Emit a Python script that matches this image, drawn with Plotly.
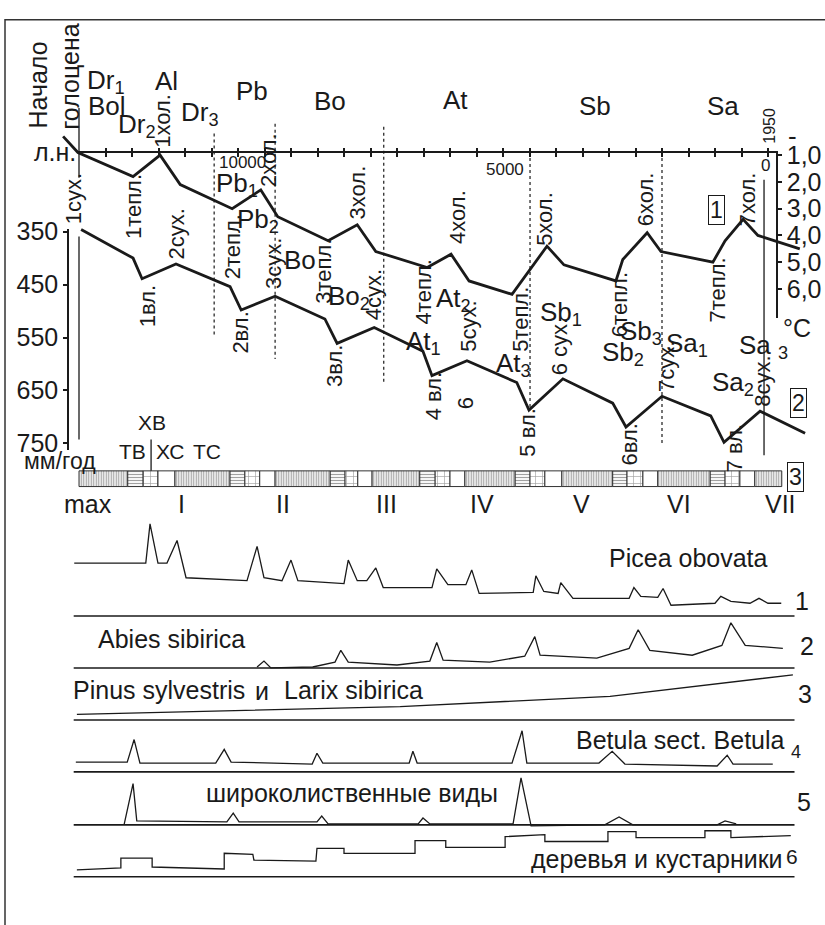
import plotly.graph_objects as go

W, H = 825, 925
FONT = "Liberation Sans, Arial, sans-serif"
INK = "#1a1a1a"

# ---------------- data (years BP) ----------------
TEMP_AGE = [13300, 13020, 11980, 11470, 11090, 10110, 9570, 9250, 8300, 7750, 7400, 6430, 5980,
            5640, 4830, 4170, 3850, 2870, 2740, 2280, 2020, 1040, 810, 470, 190, -600]
TEMP_VAL = [0.3, 0.9, 1.8, 1.0, 2.1, 3.0, 2.3, 3.3, 4.2, 3.6, 4.6, 5.2, 4.7,
            5.7, 6.2, 4.4, 5.1, 5.7, 4.9, 3.9, 4.6, 5.0, 4.2, 3.4, 4.0, 4.5]

PRECIP_AGE = [12960, 11980, 11810, 11170, 10150, 9940, 9300, 8360, 8130, 7430, 6510, 6340,
              5680, 4740, 4510, 3870, 2930, 2680, 2000, 1080, 830, 150, -700]
PRECIP_VAL = [346, 400, 439, 411, 454, 498, 472, 515, 561, 531, 576, 622,
              594, 635, 687, 628, 674, 719, 661, 698, 748, 689, 731]

PICEA_AGE = [13090, 11740, 11660, 11510, 11340, 11150, 10980, 9830, 9640, 9510, 9170, 9000, 8870,
             8000, 7920, 7750, 7570, 7400, 7260, 6340, 6250, 6040, 5700, 5590, 5450, 4430, 4380,
             4230, 3960, 3910, 3680, 2620, 2530, 2400, 2080, 1980, 1830, 1000, 890, 700, 340, 170, 0, -250]
PICEA_VAL = [27, 27, 47, 27, 27, 38.5, 19.5, 18, 35.5, 19.5, 18, 28.5, 18,
             16.5, 28.5, 18, 18, 24.5, 14.5, 14.5, 24, 16, 16, 23.5, 11.5, 12, 20.5,
             12.5, 11.5, 17, 9, 9, 14.5, 10, 9.5, 14, 5.5, 6.5, 10, 7.5, 6.5, 9, 6.5, 6.5]

ABIES_AGE = [9640, 9510, 9380, 8590, 8170, 8060, 7920, 7000, 6380, 6250, 6130, 5250,
             4590, 4400, 4300, 3230, 2620, 2450, 2230, 1430, 870, 700, 430, -280]
ABIES_VAL = [0.5, 3.5, 0, 0.5, 3, 9, 3, 1.5, 3.5, 13, 4, 3,
             6, 16, 6.5, 5, 10, 19.5, 9, 6.5, 11.5, 23, 11.5, 10]

PINUS_AGE = [13040, 6940, 2980, -470]
PINUS_VAL = [2.8, 6.8, 12, 23]

BETULA_AGE = [13060, 12090, 11960, 11850, 10420, 10260, 10130, 8600, 8510, 8400, 6770, 6700,
              6620, 4830, 4640, 4550, 3190, 2940, 2700, 960, 770, 660, -90]
BETULA_VAL = [5, 5, 16.5, 4.5, 4.5, 11.5, 5, 4, 9.5, 4.5, 4.5, 10.5,
              4.5, 4.5, 21, 4.5, 4.5, 10.5, 4, 3, 8.5, 4, 4]

BROAD_AGE = [12150, 11980, 11910, 10210, 10090, 9980, 8510, 8420, 8300, 6600, 6510,
             6380, 4810, 4660, 4470, 3080, 2810, 2550, 960, 810, 600]
BROAD_VAL = [0, 21, 2, 1.5, 6, 1.5, 1.5, 4.5, 0.5, 0.5, 3.5,
             0.5, 0.5, 24, -0.5, 0, 4, 0, 0, 2, 0.5]

TREES_AGE = [13040, 12210, 12210, 11620, 11620, 10260, 10260, 9720, 9700, 8530, 8510, 8000,
             8000, 6660, 6660, 6080, 6080, 4960, 4960, 4210, 4210, 3020, 3020, 2490, 2490,
             1190, 1190, 700, 700, -430]
TREES_VAL = [3.5, 4.5, 9.5, 9.5, 5, 4, 12, 11.5, 8.5, 8, 14.5, 14.5,
             12, 12, 18.5, 18.5, 15, 15, 20.5, 21.5, 18, 18, 23, 23, 20,
             20, 23.5, 23.5, 20, 21]

STRIP_EDGES = [13000, 12080, 11790, 11510, 11190, 10150, 9870, 9590, 9300, 8260, 7980, 7740,
               7470, 6570, 6280, 6000, 5720, 4770, 4490, 4210, 3890, 2930, 2660, 2360, 2080,
               1090, 810, 530, 250, -260]
STRIP_TYPES = ["ТС", "ТВ", "ХВ", "ХС", "ТС", "ТВ", "ХВ", "ХС", "ТС", "ТВ", "ХВ", "ХС",
               "ТС", "ТВ", "ХВ", "ХС", "ТС", "ТВ", "ХВ", "ХС", "ТС", "ТВ", "ХВ", "ХС",
               "ТС", "ТВ", "ХВ", "ХС", "ТС"]

PHASES = ["max", "I", "II", "III", "IV", "V", "VI", "VII"]
PHASE_AGES = [12830, 11075, 9150, 7190, 5400, 3510, 1680, -230]

TIME_TICKS = [0, 500, 1000, 1500, 2000, 2500, 3000, 3500, 4000, 4500, 5000, 5500, 6000,
              6500, 7000, 7500, 8000, 8500, 9000, 9500, 10000, 10500, 11000, 11500, 12000, 12500]
TEMP_TICKS = [1, 2, 3, 4, 5, 6]
TEMP_TICKTEXT = ["1,0", "2,0", "3,0", "4,0", "5,0", "6,0"]
PRECIP_TICKS = [350, 450, 550, 650, 750]

BOUNDARY_AGES = [10450, 9300, 7250, 4490, 2000]

# ---------------- geometry helpers ----------------
PX_PER_YR = 0.053
X0_PX = 768.0                      # pixel of 0 BP
AGE_LEFT = X0_PX / PX_PER_YR
AGE_RIGHT = (X0_PX - W) / PX_PER_YR

T_PX, T_SCALE = 147.0, 27.3         # 1.0 degree at 147 px
P_PX, P_SCALE = 225.0, 0.54         # 350 mm at 225 px
POLLEN_S = 2.0                      # px per %
BASES = [617, 670, 723, 776, 830, 883]


def py(p):
    return 1 - p / H


def age_of(px):
    return (X0_PX - px) / PX_PER_YR


fig = go.Figure()

fig.add_trace(go.Scatter(x=TEMP_AGE, y=TEMP_VAL, mode="lines", xaxis="x", yaxis="y",
                         line=dict(color=INK, width=2.8)))
fig.add_trace(go.Scatter(x=PRECIP_AGE, y=PRECIP_VAL, mode="lines", xaxis="x", yaxis="y2",
                         line=dict(color=INK, width=2.8)))

pollen = [(PICEA_AGE, PICEA_VAL), (ABIES_AGE, ABIES_VAL), (PINUS_AGE, PINUS_VAL),
          (BETULA_AGE, BETULA_VAL), (BROAD_AGE, BROAD_VAL), (TREES_AGE, TREES_VAL)]
for i, (a, v) in enumerate(pollen):
    fig.add_trace(go.Scatter(x=a, y=v, mode="lines", xaxis="x", yaxis="y%d" % (4 + i),
                             line=dict(color=INK, width=1.3)))

pat_shape = {"ТС": "|", "ТВ": "-", "ХВ": "+", "ХС": ""}
pat_size = {"ТС": 2.5, "ТВ": 3, "ХВ": 7, "ХС": 8}
pat_sol = {"ТС": 0.5, "ТВ": 0.4, "ХВ": 0.18, "ХС": 0.0}
fig.add_trace(go.Bar(
    orientation="h", xaxis="x", yaxis="y10",
    y=[0] * len(STRIP_TYPES),
    base=STRIP_EDGES[1:],
    x=[STRIP_EDGES[i] - STRIP_EDGES[i + 1] for i in range(len(STRIP_TYPES))],
    width=16,
    marker=dict(color="white", line=dict(color="#333", width=1),
                pattern=dict(shape=[pat_shape[t] for t in STRIP_TYPES],
                             size=[pat_size[t] for t in STRIP_TYPES],
                             solidity=[pat_sol[t] for t in STRIP_TYPES],
                             fgcolor="#444", bgcolor="white", fillmode="overlay")),
))

for xa, ya in [("x2", "y12"), ("x3", "y12"), ("x", "y3"), ("x", "y11")]:
    fig.add_trace(go.Scatter(x=[None], y=[None], xaxis=xa, yaxis=ya, mode="lines"))

# ---------------- shapes ----------------
shapes = []
shapes.append(dict(type="rect", xref="paper", yref="paper", x0=5 / W, x1=1.02, y0=py(9), y1=-0.02,
                   line=dict(color="#333", width=1.5)))
dotted_extent = [(125, 330), (115, 355), (118, 380), (150, 405), (150, 442)]
for a, (t, b) in zip(BOUNDARY_AGES, dotted_extent):
    shapes.append(dict(type="line", xref="x", yref="paper", x0=a, x1=a, y0=py(t), y1=py(b),
                       line=dict(color=INK, width=1.2, dash="dot")))
for t, b in [(99, 170), (230, 437)]:
    shapes.append(dict(type="line", xref="x", yref="paper", x0=13000, x1=13000, y0=py(t), y1=py(b),
                       line=dict(color=INK, width=1.3)))
shapes.append(dict(type="line", xref="x", yref="paper", x0=75, x1=75, y0=py(172), y1=py(453),
                   line=dict(color=INK, width=1.3)))
shapes.append(dict(type="line", xref="x", yref="paper", x0=11640, x1=11640, y0=py(437), y1=py(469),
                   line=dict(color=INK, width=1.3)))
for i in range(6):
    shapes.append(dict(type="line", xref="x", yref="y%d" % (4 + i), x0=13100, x1=-500, y0=0, y1=0,
                       line=dict(color=INK, width=1.6)))

# ---------------- annotations ----------------
ANN = []


def label(text, x, y, size=24, angle=0, xanchor="center", yanchor="middle", **kw):
    ANN.append(dict(text=text, x=x / W, y=py(y), xref="paper", yref="paper", showarrow=False,
                    font=dict(size=size, family=FONT, color=INK), textangle=angle,
                    xanchor=xanchor, yanchor=yanchor, **kw))


for t, x, y in [("Dr<sub>1</sub>", 106, 72), ("Bol", 107, 97), ("Dr<sub>2</sub>", 137, 117),
                ("Al", 166, 71), ("Dr<sub>3</sub>", 200, 105), ("Pb", 252, 82), ("Bo", 330, 92),
                ("At", 455, 91), ("Sb", 595, 97), ("Sa", 723, 97),
                ("Pb<sub>1</sub>", 237, 177), ("Pb<sub>2</sub>", 258, 214), ("Bo", 300, 254),
                ("Bo<sub>2</sub>", 349, 292), ("At<sub>1</sub>", 423, 338), ("At<sub>2</sub>", 453, 294),
                ("At<sub>3</sub>", 513, 361), ("Sb<sub>1</sub>", 561, 308), ("Sb<sub>2</sub>", 623, 349),
                ("Sb<sub>3</sub>", 641, 328), ("Sa<sub>1</sub>", 687, 340), ("Sa<sub>2</sub>", 733, 380),
                ("Sa <sub>3</sub>", 763, 342)]:
    label(t, x, y, 26)

for t, x, y in [("1сух.", 73, 192), ("1тепл.", 133, 200), ("1хол.", 163, 112), ("2сух.", 177, 228),
                ("2тепл.", 232, 240), ("2хол.", 268, 152), ("3сух.", 274, 258), ("3тепл.", 324, 266),
                ("3хол.", 357, 185), ("4сух.", 373, 290), ("4хол.", 458, 210), ("4тепл.", 423, 287),
                ("5сух.", 469, 322), ("5хол.", 545, 212), ("5тепл.", 521, 315), ("6 сух.", 559, 343),
                ("6хол.", 645, 192), ("6тепл.", 619, 300), ("7сух.", 667, 363), ("7тепл.", 717, 285),
                ("7хол.", 747, 192), ("8сух.", 763, 378),
                ("1вл.", 147, 301), ("2вл.", 241, 328), ("3вл.", 335, 362), ("4 вл.", 433, 393),
                ("6", 465, 400), ("5 вл.", 528, 430), ("6вл.", 629, 442), ("7 вл.", 734, 446)]:
    label(t, x, y, 22, angle=-90)

label("Начало", 38, 76, 25, angle=-90)
label("голоцена", 70, 67, 25, angle=-90)
label("л.н.", 55, 144, 25)
label("10000", 242, 155, 17)
label("5000", 505, 162, 17)
label("0", 765, 158, 17)
label("1950", 770, 117, 16, angle=-90)
label("-", 792, 127, 26)
label("°C", 797, 323, 25)
label("мм/год", 60, 459, 23)
label("ХВ", 152, 420, 21)
label("ТВ", 132, 449, 21)
label("ХС", 170, 449, 21)
label("ТС", 207, 449, 21)
for t, x, y in [("1", 716, 203), ("2", 798, 400), ("3", 795, 475)]:
    label(t, x, y, 23, bordercolor=INK, borderwidth=1, borderpad=1)

for t, a in zip(PHASES, PHASE_AGES):
    ANN.append(dict(text=t, x=a, y=py(503), xref="x", yref="paper", showarrow=False,
                    font=dict(size=25, family=FONT, color=INK)))

label("Picea obovata", 607, 558, 25, xanchor="left")
label("Abies sibirica", 96, 640, 25, xanchor="left")
label("Pinus sylvestris", 71, 692, 25, xanchor="left")
label("и", 262, 694, 25)
label("Larix sibirica", 282, 692, 25, xanchor="left")
label("Betula sect. Betula", 787, 743, 25, xanchor="right")
label("4", 796, 756, 18)
label("широколиственные виды", 204, 798, 25, xanchor="left")
label("деревья и кустарники", 785, 865, 25, xanchor="right")
for t, x, y, s in [("1", 802, 602, 25), ("2", 807, 648, 25), ("3", 805, 697, 25),
                   ("5", 804, 807, 25), ("6", 792, 862, 21)]:
    label(t, x, y, s)


def yrange_pollen(base):
    return [(base - H) / POLLEN_S, base / POLLEN_S]


layout = dict(
    width=W, height=H, margin=dict(l=0, r=0, t=0, b=0, pad=0),
    paper_bgcolor="white", plot_bgcolor="rgba(0,0,0,0)", showlegend=False, hovermode=False,
    font=dict(family=FONT, color=INK),
    xaxis=dict(domain=[0, 1], range=[AGE_LEFT, AGE_RIGHT], visible=False, fixedrange=True),
    yaxis=dict(domain=[0, 1], visible=False, fixedrange=True,
               range=[1 + (H - T_PX) / T_SCALE, 1 - T_PX / T_SCALE]),
    yaxis2=dict(overlaying="y", visible=False, fixedrange=True,
                range=[350 + (H - P_PX) / P_SCALE, 350 - P_PX / P_SCALE]),
    yaxis10=dict(overlaying="y", visible=False, fixedrange=True, range=[477 - H, 477]),
    yaxis12=dict(domain=[0, 1], visible=False, range=[0, 1], fixedrange=True),
    xaxis2=dict(domain=[78 / W, 778 / W], range=[age_of(78), age_of(778)], anchor="free",
                position=py(144), showline=True, linecolor=INK, linewidth=2, showgrid=False,
                zeroline=False, tickvals=TIME_TICKS, showticklabels=False, ticks="outside",
                ticklen=4, tickwidth=2, tickcolor=INK, fixedrange=True),
    xaxis3=dict(overlaying="x2", domain=[78 / W, 778 / W], range=[age_of(78), age_of(778)],
                anchor="free", position=py(144), side="top", showline=False, showgrid=False,
                zeroline=False, tickvals=TIME_TICKS, showticklabels=False, ticks="outside",
                ticklen=4, tickwidth=2, tickcolor=INK, fixedrange=True),
    yaxis3=dict(domain=[py(313), py(144)], range=[1 + (313 - T_PX) / T_SCALE, 1 + (144 - T_PX) / T_SCALE],
                anchor="free", position=777 / W, side="right", showline=True, linecolor=INK,
                linewidth=1.5, showgrid=False, zeroline=False, tickvals=TEMP_TICKS,
                ticktext=TEMP_TICKTEXT, ticks="outside", ticklen=4, tickwidth=2, tickcolor=INK,
                tickfont=dict(size=25, family=FONT, color=INK), fixedrange=True),
    yaxis11=dict(domain=[py(448), py(222)], range=[350 + (448 - P_PX) / P_SCALE, 350 + (222 - P_PX) / P_SCALE],
                 anchor="free", position=68 / W, side="left", showline=True, linecolor=INK,
                 linewidth=1.5, showgrid=False, zeroline=False, tickvals=PRECIP_TICKS,
                 ticks="outside", ticklen=4, tickwidth=2, tickcolor=INK,
                 tickfont=dict(size=25, family=FONT, color=INK), fixedrange=True),
    shapes=shapes, annotations=ANN,
)
for i, b in enumerate(BASES):
    layout["yaxis%d" % (4 + i)] = dict(overlaying="y", visible=False, fixedrange=True,
                                       range=yrange_pollen(b))

fig.update_layout(**layout)
fig.write_html("out.html", config={"displayModeBar": False},
               post_script="document.body.style.margin='0';document.body.style.padding='0';")
